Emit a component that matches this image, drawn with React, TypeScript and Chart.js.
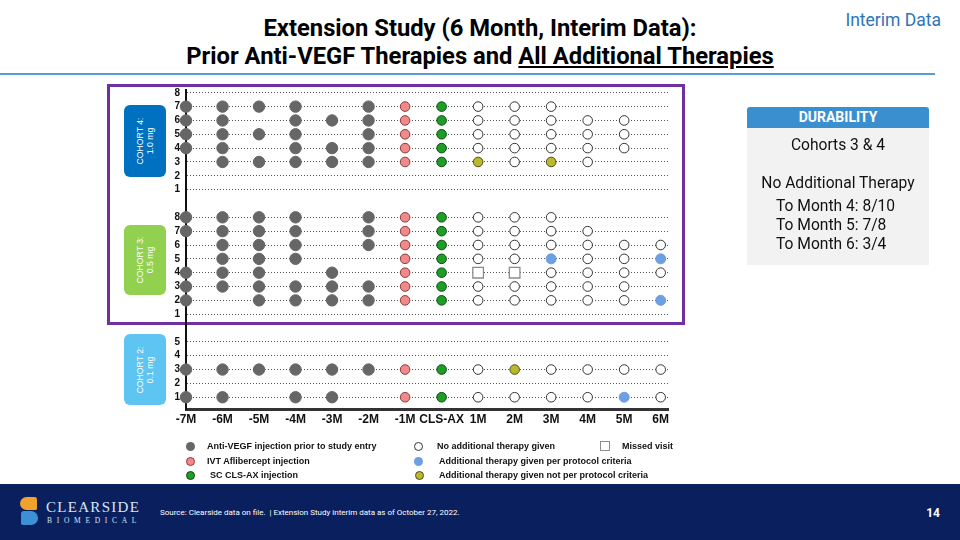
import React, { useEffect, useRef } from 'react';
import { Chart, registerables } from 'chart.js';

Chart.register(...registerables);

// ---------- DATA ----------
const xLabels = ['-7M', '-6M', '-5M', '-4M', '-3M', '-2M', '-1M', 'CLS-AX', '1M', '2M', '3M', '4M', '5M', '6M'];

// Each string = one patient row (listed from top row to row 1), one char per month column.
// G = anti-VEGF prior to entry, P = IVT aflibercept, C = SC CLS-AX, O = no additional therapy,
// B = additional therapy per protocol, Y = additional therapy not per protocol, S = missed visit, . = none
const cohort4Rows = [
  '..............',
  'GGGG.GPCOOO...',
  'GG.GGGPCOOOOO.',
  'GGGG.GPCOOOOO.',
  'GG.GGGPCOOOOO.',
  '.GGGGGPCYOYO..',
  '..............',
  '..............',
];
const cohort3Rows = [
  'GGGG.GPCOOO...',
  'GGGG.GPCOOOO..',
  '.GGG.GPCOOOOOO',
  '.GGG..PCOOBOOB',
  'GGG.G.PCSSOOOO',
  'GGGGGGPCOOOOO.',
  'G.GGGGPCOOOOOB',
  '..............',
];
const cohort2Rows = [
  '..............',
  '..............',
  'GGGGGGPCOYOOOO',
  '..............',
  'GG.GG.PCOOOOBO',
];
const cohortRowSets = [cohort4Rows, cohort3Rows, cohort2Rows];
const cohortOffsets = [15, 6, 0];
const cohortNames = ['COHORT 4:', 'COHORT 3:', 'COHORT 2:'];
const cohortDoses = ['1.0 mg', '0.5 mg', '0.1 mg'];

const markCodes = ['G', 'P', 'C', 'O', 'B', 'Y', 'S'];
const markLabels = [
  'Anti-VEGF injection prior to study entry',
  'IVT Aflibercept injection',
  'SC CLS-AX injection',
  'No additional therapy given',
  'Additional therapy given per protocol criteria',
  'Additional therapy given not per protocol criteria',
  'Missed visit',
];

const durabilityLines = ['To Month 4: 8/10', 'To Month 5: 7/8', 'To Month 6: 3/4'];

// ---------- STYLES ----------
const markStyle: Record<string, any> = {
  G: { bg: '#666666', border: '#666666', r: 5.7, w: 1, shape: 'circle' },
  P: { bg: '#f08a8a', border: '#8a3b3b', r: 4.8, w: 1, shape: 'circle' },
  C: { bg: '#1f9e27', border: '#0c4a10', r: 4.8, w: 1, shape: 'circle' },
  O: { bg: '#ffffff', border: '#333333', r: 4.8, w: 1, shape: 'circle' },
  B: { bg: '#6d9fe3', border: '#6d9fe3', r: 5, w: 1, shape: 'circle' },
  Y: { bg: '#b9b92e', border: '#4d4d1a', r: 4.8, w: 1, shape: 'circle' },
  S: { bg: '#ffffff', border: '#8c8c8c', r: 7.5, w: 1.3, shape: 'rect' },
};
const cohortColors = ['#0070c0', '#92d050', '#5ec4f2'];
const cohortBoxes = [
  { left: 124, top: 105, height: 72 },
  { left: 124, top: 225, height: 70 },
  { left: 124, top: 334, height: 71 },
];

function buildDatasets() {
  return markCodes.map((code, mi) => {
    const data: { x: number; y: number }[] = [];
    cohortRowSets.forEach((rows, ci) => {
      rows.forEach((row, ri) => {
        const y = cohortOffsets[ci] + rows.length - ri;
        row.split('').forEach((ch, xi) => {
          if (ch === code) data.push({ x: xi, y });
        });
      });
    });
    const s = markStyle[code];
    return {
      label: markLabels[mi],
      data,
      showLine: false,
      clip: false as any,
      pointStyle: s.shape,
      pointRadius: s.r,
      pointHoverRadius: s.r,
      pointBackgroundColor: s.bg,
      pointBorderColor: s.border,
      pointBorderWidth: s.w,
    };
  });
}

const yTicks: number[] = [];
const yTickLabel: Record<number, string> = {};
cohortRowSets.forEach((rows, ci) => {
  for (let k = 1; k <= rows.length; k++) {
    const v = cohortOffsets[ci] + k;
    yTicks.push(v);
    yTickLabel[v] = String(k);
  }
});

function TimelineChart() {
  const ref = useRef<HTMLCanvasElement | null>(null);
  useEffect(() => {
    if (!ref.current) return;
    const chart = new Chart(ref.current, {
      type: 'scatter',
      data: { datasets: buildDatasets() as any },
      options: {
        animation: false,
        responsive: false,
        events: [],
        layout: { padding: { left: 156, right: 292, top: 90, bottom: 101 } },
        plugins: { legend: { display: false }, tooltip: { enabled: false } },
        scales: {
          x: {
            type: 'linear',
            min: 0,
            max: 13.2,
            afterBuildTicks: (scale: any) => {
              scale.ticks = xLabels.map((_, i) => ({ value: i }));
            },
            afterFit: (scale: any) => {
              scale.height = 30;
            },
            ticks: {
              autoSkip: false,
              maxRotation: 0,
              padding: 3,
              color: '#111',
              font: { family: 'Liberation Sans, Arial', size: 12, weight: 'bold' },
              callback: (v: any) => xLabels[v],
            },
            grid: { display: false, drawTicks: false },
            border: { display: true, color: '#333', width: 3 },
          },
          y: {
            type: 'linear',
            min: 0.15,
            max: 23.2,
            afterBuildTicks: (scale: any) => {
              scale.ticks = yTicks.map((v) => ({ value: v }));
            },
            afterFit: (scale: any) => {
              scale.width = 30;
            },
            ticks: {
              autoSkip: false,
              padding: 6,
              color: '#111',
              font: { family: 'Liberation Sans, Arial', size: 10, weight: 'bold' },
              callback: (v: any) => yTickLabel[v] ?? '',
            },
            grid: { display: true, drawTicks: false, color: '#555', lineWidth: 1 },
            border: { display: true, color: '#111', width: 2, dash: [1, 2] },
          },
        },
      } as any,
    });
    return () => chart.destroy();
  }, []);
  return (
    <canvas
      ref={ref}
      width={960}
      height={540}
      style={{ position: 'absolute', left: 0, top: 0, width: 960, height: 540 }}
    />
  );
}

function LegendMark({ code, x, y }: { code: string; x: number; y: number }) {
  const s = markStyle[code];
  const size = code === 'S' ? 10 : 9;
  return (
    <div
      style={{
        position: 'absolute',
        left: x - size / 2,
        top: y - size / 2,
        width: size,
        height: size,
        boxSizing: 'border-box',
        borderRadius: s.shape === 'rect' ? 0 : '50%',
        background: s.bg,
        border: `${code === 'G' || code === 'B' ? 0 : 1.2}px solid ${s.border}`,
      }}
    />
  );
}

const legendItems = [
  { code: 'G', mx: 190, my: 446, tx: 207 },
  { code: 'P', mx: 190, my: 461, tx: 207 },
  { code: 'C', mx: 190, my: 475, tx: 210 },
  { code: 'O', mx: 418, my: 446, tx: 437 },
  { code: 'B', mx: 418, my: 461, tx: 439 },
  { code: 'Y', mx: 419, my: 475, tx: 439 },
  { code: 'S', mx: 605, my: 446, tx: 622 },
];

export default function App() {
  return (
    <div
      style={{
        position: 'absolute',
        left: 0,
        top: 0,
        width: 960,
        height: 540,
        background: '#fff',
        overflow: 'hidden',
        fontFamily: 'Roboto, sans-serif',
      }}
    >
      {/* Title */}
      <div
        style={{
          position: 'absolute',
          left: 0,
          top: 14,
          width: 960,
          textAlign: 'center',
          fontWeight: 700,
          fontSize: 24,
          lineHeight: '28px',
          color: '#000',
          transform: 'scaleX(0.99)',
          transformOrigin: '480px 0',
        }}
      >
        <div>Extension Study (6 Month, Interim Data):</div>
        <div>
          Prior Anti-VEGF Therapies and <span style={{ textDecoration: 'underline' }}>All Additional Therapies</span>
        </div>
      </div>
      <div
        style={{
          position: 'absolute',
          right: 19,
          top: 9,
          fontSize: 17.5,
          color: '#2e75b6',
          lineHeight: '22px',
        }}
      >
        Interim Data
      </div>
      <div style={{ position: 'absolute', left: 0, top: 73, width: 935, height: 2, background: '#5b9bd5' }} />

      {/* Purple frame around cohorts 3 & 4 */}
      <div
        style={{
          position: 'absolute',
          left: 107,
          top: 84,
          width: 578,
          height: 241,
          boxSizing: 'border-box',
          border: '3px solid #7030a0',
        }}
      />

      {/* Cohort boxes */}
      {cohortBoxes.map((b, i) => (
        <div
          key={i}
          style={{
            position: 'absolute',
            left: b.left,
            top: b.top,
            width: 42,
            height: b.height,
            background: cohortColors[i],
            borderRadius: 6,
          }}
        >
          <div
            style={{
              position: 'absolute',
              left: 21,
              top: b.height / 2,
              transform: 'translate(-50%, -50%) rotate(-90deg)',
              color: '#fff',
              fontFamily: 'Liberation Sans, Arial',
              fontSize: 8.7,
              lineHeight: '10px',
              textAlign: 'center',
              whiteSpace: 'nowrap',
            }}
          >
            <div>{cohortNames[i]}</div>
            <div>{cohortDoses[i]}</div>
          </div>
        </div>
      ))}

      <TimelineChart />

      {/* Legend */}
      {legendItems.map((it, i) => (
        <React.Fragment key={i}>
          <LegendMark code={it.code} x={it.mx} y={it.my} />
          <div
            style={{
              position: 'absolute',
              left: it.tx,
              top: it.my - 7,
              lineHeight: '14px',
              fontFamily: 'Liberation Sans, Arial',
              fontWeight: 700,
              fontSize: 9,
              color: '#111',
              whiteSpace: 'nowrap',
            }}
          >
            {markLabels[markCodes.indexOf(it.code)]}
          </div>
        </React.Fragment>
      ))}

      {/* Durability box */}
      <div
        style={{
          position: 'absolute',
          left: 747,
          top: 107,
          width: 182,
          height: 21,
          background: '#3a8fcf',
          borderRadius: '3px 3px 0 0',
          color: '#fff',
          fontWeight: 700,
          fontSize: 14,
          lineHeight: '21px',
          textAlign: 'center',
        }}
      >
        DURABILITY
      </div>
      <div
        style={{
          position: 'absolute',
          left: 747,
          top: 128,
          width: 182,
          height: 137,
          background: '#f2f2f2',
          color: '#111',
          fontSize: 15.6,
        }}
      >
        <div style={{ position: 'absolute', top: 7, width: 182, textAlign: 'center', lineHeight: '20px' }}>
          Cohorts 3 &amp; 4
        </div>
        <div style={{ position: 'absolute', top: 45, width: 182, textAlign: 'center', lineHeight: '20px' }}>
          No Additional Therapy
        </div>
        {durabilityLines.map((t, i) => (
          <div key={i} style={{ position: 'absolute', left: 29, top: 68 + i * 19, lineHeight: '20px', whiteSpace: 'nowrap' }}>
            {t}
          </div>
        ))}
      </div>

      {/* Footer */}
      <div style={{ position: 'absolute', left: 0, top: 484, width: 960, height: 56, background: '#0a1f5e' }}>
        <div style={{ position: 'absolute', left: 20, top: 13, width: 17, height: 13, background: '#f2a22c', borderRadius: '8px 3px 2px 8px' }} />
        <div style={{ position: 'absolute', left: 21, top: 27, width: 17, height: 14, background: '#3d8fd6', borderRadius: '3px 8px 8px 2px' }} />
        <div
          style={{
            position: 'absolute',
            left: 46,
            top: 15,
            fontFamily: 'Liberation Serif, serif',
            fontSize: 15,
            lineHeight: '17px',
            letterSpacing: 1.3,
            color: '#d6e6f5',
          }}
        >
          CLEARSIDE
        </div>
        <div
          style={{
            position: 'absolute',
            left: 47,
            top: 32,
            fontFamily: 'Liberation Serif, serif',
            fontSize: 7.5,
            lineHeight: '9px',
            letterSpacing: 4.7,
            color: '#d6e6f5',
          }}
        >
          BIOMEDICAL
        </div>
        <div
          style={{
            position: 'absolute',
            left: 160,
            top: 24,
            fontSize: 8,
            lineHeight: '10px',
            color: '#fff',
            whiteSpace: 'nowrap',
          }}
        >
          Source: Clearside data on file.&nbsp; | Extension Study interim data as of October 27, 2022.
        </div>
        <div
          style={{
            position: 'absolute',
            right: 20,
            top: 21,
            fontSize: 12,
            fontWeight: 700,
            lineHeight: '16px',
            color: '#fff',
          }}
        >
          14
        </div>
      </div>
    </div>
  );
}
